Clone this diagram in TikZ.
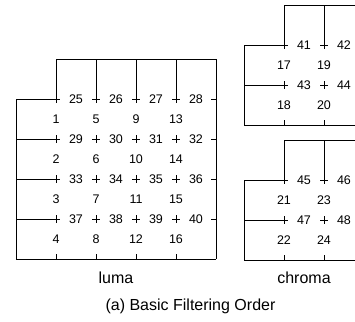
\documentclass[tikz,border=0pt]{standalone}
\usepackage{fontspec}
\setmainfont{Liberation Sans}
\begin{document}
\begin{tikzpicture}[x=1bp,y=-1bp,
  ln/.style={line width=0.8bp, black},
  num/.style={font=\fontsize{12.5bp}{14bp}\selectfont, inner sep=0pt},
  lbl/.style={font=\fontsize{16bp}{18bp}\selectfont, inner sep=0pt, anchor=base}]
\useasboundingbox (0,0) rectangle (355,322);
% ---------------- luma ----------------
\draw[ln] (56,59) -- (216,59) -- (216,259);
\foreach \x in {56,96,136,176} \draw[ln] (\x,59) -- (\x,103);
\draw[ln] (16,99) -- (16,259) -- (216,259);
\foreach \y in {99,139,179,219} {
  \draw[ln] (16,\y) -- (60,\y);
  \draw[ln] (211,\y) -- (216,\y);
}
\foreach \y in {139,179,219} \draw[ln] (56,\y-4) -- (56,\y+4);
\foreach \x in {96,136,176} \foreach \y in {99,139,179,219}
  \draw[ln] (\x-4,\y) -- (\x+4,\y) (\x,\y-4) -- (\x,\y+4);
\foreach \x in {56,96,136,176} \draw[ln] (\x,259) -- (\x,254);
\foreach \c in {0,1,2,3} \foreach \r in {0,1,2,3} {
  \pgfmathtruncatemacro{\vn}{1+4*\c+\r}
  \pgfmathtruncatemacro{\hn}{25+4*\r+\c}
  \node[num] (v\vn) at (56+40*\c,119+40*\r) {\vn};
  \node[num] (h\hn) at (76+40*\c,99+40*\r) {\hn};
}
\node[lbl] (luma) at (116,283) {luma};
% ---------------- chroma ----------------
\foreach \o/\va/\ha in {0/17/41, 135/21/45} {
  \begin{scope}[yshift=-\o bp]
  \draw[ln] (284,5) -- (355,5);
  \draw[ln] (284,5) -- (284,49);
  \draw[ln] (324,5) -- (324,49);
  \draw[ln] (244,45) -- (244,125) -- (355,125);
  \draw[ln] (244,45) -- (288,45);
  \draw[ln] (244,85) -- (288,85);
  \draw[ln] (284,81) -- (284,89);
  \draw[ln] (320,45) -- (328,45);
  \draw[ln] (320,85) -- (328,85) (324,81) -- (324,89);
  \draw[ln] (284,125) -- (284,120) (324,125) -- (324,120);
  \end{scope}
}
\foreach \o/\va/\ha in {0/17/41, 135/21/45} {
  \pgfmathtruncatemacro{\vb}{\va+1}
  \pgfmathtruncatemacro{\vc}{\va+2}
  \pgfmathtruncatemacro{\vd}{\va+3}
  \pgfmathtruncatemacro{\hb}{\ha+1}
  \pgfmathtruncatemacro{\hc}{\ha+2}
  \pgfmathtruncatemacro{\hd}{\ha+3}
  \node[num] (h\ha) at (304,45+\o) {\ha};
  \node[num] (h\hb) at (344,45+\o) {\hb};
  \node[num] (h\hc) at (304,85+\o) {\hc};
  \node[num] (h\hd) at (344,85+\o) {\hd};
  \node[num] (v\va) at (284,65+\o) {\va};
  \node[num] (v\vb) at (284,105+\o) {\vb};
  \node[num] (v\vc) at (324,65+\o) {\vc};
  \node[num] (v\vd) at (324,105+\o) {\vd};
}
\node[lbl] (chroma) at (304,283) {chroma};
\node[lbl] (caption) at (190.5,310) {(a) Basic Filtering Order};
\end{tikzpicture}
\end{document}
